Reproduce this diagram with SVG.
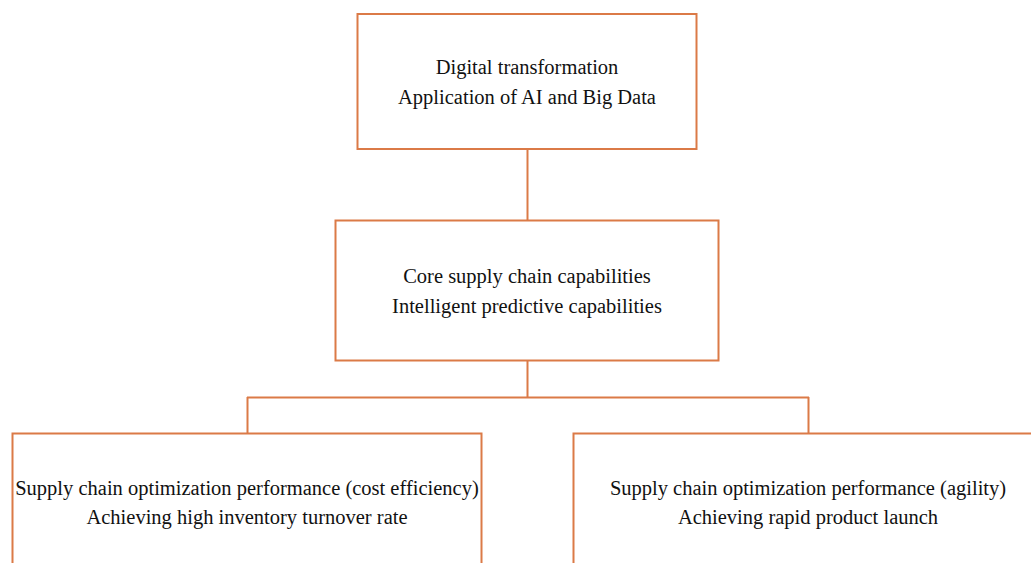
<svg xmlns="http://www.w3.org/2000/svg" width="1031" height="563" viewBox="0 0 1031 563">
<style>
.box{fill:#fff;stroke:#DB7A47;stroke-width:2}
.conn{fill:none;stroke:#DB7A47;stroke-width:2}
text{font-family:"Liberation Serif","Times New Roman",serif;font-size:20.5px;fill:#111;text-anchor:middle}
</style>
<rect width="1031" height="563" fill="#fff"/>
<g id="connectors">
<line class="conn" x1="527.5" y1="149" x2="527.5" y2="220"/>
<path class="conn" d="M527.5 361 V397.5 M247 397.5 H809 M247.5 397 V433 M808.5 397 V433"/>
</g>
<g id="node-digital">
<rect class="box" x="357.5" y="14" width="339" height="135"/>
<text x="527" y="74">Digital transformation</text>
<text x="527" y="104">Application of AI and Big Data</text>
</g>
<g id="node-core">
<rect class="box" x="335.5" y="220.5" width="383" height="140"/>
<text x="527" y="283">Core supply chain capabilities</text>
<text x="527" y="313">Intelligent predictive capabilities</text>
</g>
<g id="node-cost">
<rect class="box" x="12.5" y="433.5" width="469" height="140"/>
<text x="247" y="495">Supply chain optimization performance (cost efficiency)</text>
<text x="247" y="524">Achieving high inventory turnover rate</text>
</g>
<g id="node-agility">
<rect class="box" x="573.5" y="433.5" width="470" height="140"/>
<text x="808" y="495">Supply chain optimization performance (agility)</text>
<text x="808" y="524">Achieving rapid product launch</text>
</g>
</svg>
